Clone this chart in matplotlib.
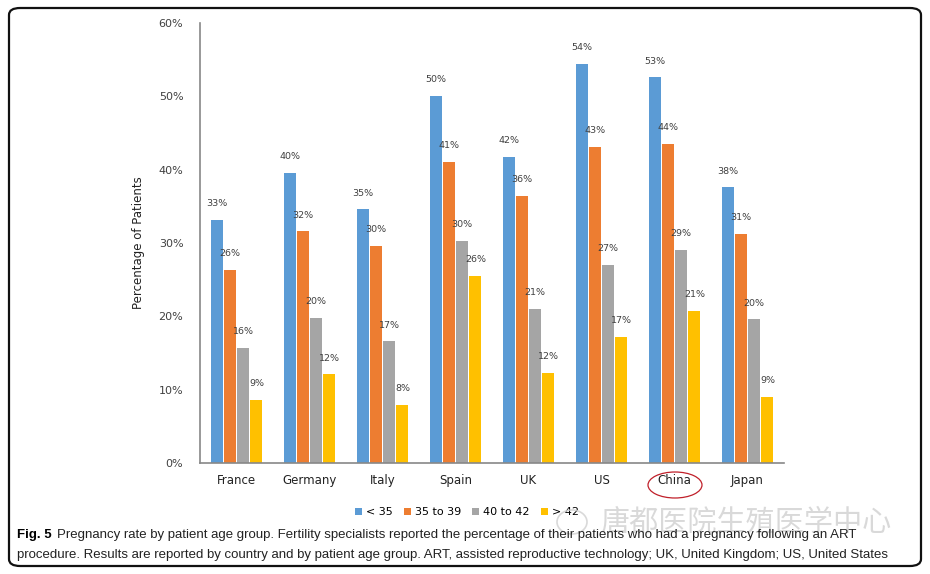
import matplotlib.pyplot as plt
import numpy as np
from matplotlib.patches import FancyBboxPatch, Ellipse

countries = ['France', 'Germany', 'Italy', 'Spain', 'UK', 'US', 'China', 'Japan']
groups = ['< 35', '35 to 39', '40 to 42', '> 42']
under35 = [33.2, 39.6, 34.6, 50.1, 41.7, 54.4, 52.6, 37.6]
age35_39 = [26.3, 31.6, 29.6, 41.1, 36.4, 43.1, 43.5, 31.2]
age40_42 = [15.7, 19.8, 16.6, 30.3, 21.0, 27.0, 29.1, 19.6]
over42 = [8.6, 12.1, 7.9, 25.5, 12.3, 17.2, 20.7, 9.0]
colors = ['#5B9BD5', '#ED7D31', '#A5A5A5', '#FFC000']

series = [under35, age35_39, age40_42, over42]

fig = plt.figure(figsize=(9.3, 5.74), dpi=100)
ax = fig.add_axes([200/930, 1-463/574, 584/930, 440/574])

x = np.arange(len(countries))
w = 0.165
step = 0.182
for i, vals in enumerate(series):
    pos = x + (i - 1.5) * step
    bars = ax.bar(pos, vals, width=w, color=colors[i], label=groups[i])
    for b, v in zip(bars, vals):
        ax.text(b.get_x() + b.get_width()/2, v + 1.6, f'{round(v):d}%',
                ha='center', va='bottom', fontsize=6.8, color='#404040')

ax.set_xlim(-0.5, 7.5)
ax.set_ylim(0, 60)
ax.set_yticks(range(0, 61, 10))
ax.set_yticklabels([f'{t}%' for t in range(0, 61, 10)], fontsize=8, color='#404040')
ax.set_xticks(x)
ax.set_xticklabels(countries, fontsize=8.5, color='#222222')
ax.tick_params(length=0, pad=8)
ax.tick_params(axis='y', pad=12)
for s in ['top', 'right']:
    ax.spines[s].set_visible(False)
for s in ['left', 'bottom']:
    ax.spines[s].set_color('#888888')
    ax.spines[s].set_linewidth(1.2)
ax.set_ylabel('Percentage of Patients', fontsize=8.5, color='#222222', labelpad=10)

ax.legend(loc='center', bbox_to_anchor=(467/930, 1-512/574), bbox_transform=fig.transFigure,
          ncol=4, frameon=False, fontsize=8, handlelength=0.6, handleheight=0.6,
          handletextpad=0.4, columnspacing=1.0)

# red marker around China
fig.add_artist(Ellipse((675/930, 1-485/574), 54/930, 26/574, transform=fig.transFigure,
                       fill=False, edgecolor='#C0202A', linewidth=0.9))

# watermark (bubble icon + text)
fig.add_artist(Ellipse((572/930, 1-522/574), 30/930, 24/574, transform=fig.transFigure,
                       fill=False, edgecolor='#D0D0D0', linewidth=1.2, alpha=0.8))
fig.text(600/930, 1-522/574, '唐都医院生殖医学中心', fontsize=21, color='#D0D0D0', alpha=0.8,
         family=['Noto Sans CJK SC', 'DejaVu Sans'], va='center')

# caption
cap_font = ['Liberation Sans', 'DejaVu Sans']
fig.text(17/930, 1-535/574, 'Fig. 5', fontsize=9.5, fontweight='bold', family=cap_font, va='center')
fig.text(57/930, 1-535/574,
         'Pregnancy rate by patient age group. Fertility specialists reported the percentage of their patients who had a pregnancy following an ART',
         fontsize=9.5, family=cap_font, va='center', color='#222222')
fig.text(17/930, 1-555/574,
         'procedure. Results are reported by country and by patient age group. ART, assisted reproductive technology; UK, United Kingdom; US, United States',
         fontsize=9.5, family=cap_font, va='center', color='#222222')

# outer frame
fig.add_artist(FancyBboxPatch((9/930, 8/574), 912/930, 558/574, transform=fig.transFigure,
                              boxstyle='round,pad=0,rounding_size=0.012', fill=False,
                              edgecolor='#111111', linewidth=1.6))

fig.savefig('out.png', dpi=100)
